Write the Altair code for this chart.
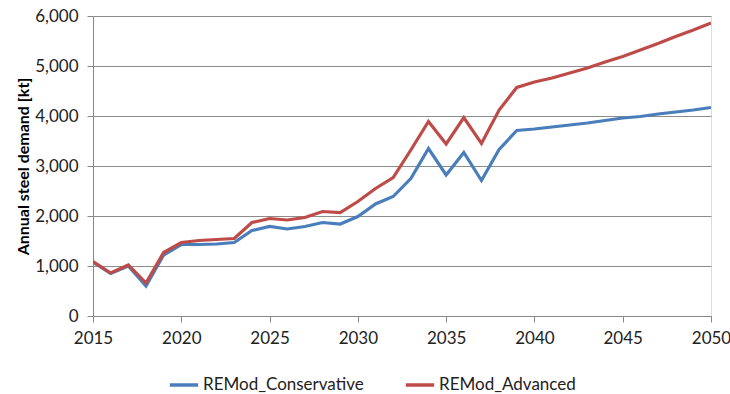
import altair as alt
import pandas as pd

years = list(range(2015, 2051))
conservative = [1080, 850, 1000, 600, 1220, 1430, 1430, 1440, 1470, 1710,
                1790, 1740, 1790, 1870, 1840, 1990, 2240, 2390, 2750, 3350,
                2820, 3270, 2710, 3330, 3710, 3740, 3780, 3820, 3860, 3910,
                3960, 3990, 4040, 4080, 4120, 4170]
advanced = [1090, 860, 1020, 660, 1270, 1470, 1510, 1530, 1550, 1870,
            1950, 1920, 1970, 2090, 2070, 2290, 2550, 2770, 3320, 3890,
            3440, 3970, 3450, 4120, 4570, 4680, 4760, 4860, 4960, 5080,
            5190, 5320, 5450, 5590, 5720, 5860]
series_names = ["REMod_Conservative", "REMod_Advanced"]
colors = ["#4A7EBB", "#BE4B48"]

rows = []
for y, c, a in zip(years, conservative, advanced):
    rows.append({"year": y, "value": c, "series": series_names[0]})
    rows.append({"year": y, "value": a, "series": series_names[1]})
df = pd.DataFrame(rows)

FONT = "Lato"

chart = alt.Chart(df).mark_line(strokeWidth=3.2, clip=True).encode(
    x=alt.X("year:Q",
            scale=alt.Scale(domain=[2015, 2050], nice=False, zero=False),
            axis=alt.Axis(values=list(range(2015, 2051, 5)), format="d", title=None,
                          grid=False, domainColor="#888888", tickColor="#888888",
                          tickSize=6, labelPadding=8, labelFontSize=17,
                          labelFlush=False,
                          labelColor="#222222", labelFont=FONT)),
    y=alt.Y("value:Q",
            scale=alt.Scale(domain=[0, 6000], nice=False),
            axis=alt.Axis(values=list(range(0, 6001, 1000)), format=",.0f",
                          title="Annual steel demand [kt]", titleFont=FONT,
                          titleFontSize=16, titleFontWeight="bold", titleColor="#000000",
                          titlePadding=3, labelFlush=False,
                          gridColor="#8C8C8C", gridWidth=1, domainColor="#888888",
                          tickColor="#888888", tickSize=6, labelPadding=9,
                          labelFontSize=17, labelColor="#222222", labelFont=FONT)),
    color=alt.Color("series:N",
                    scale=alt.Scale(domain=series_names, range=colors),
                    legend=alt.Legend(title=None, orient="none", legendX=75, legendY=353,
                                      direction="horizontal", symbolType="stroke",
                                      symbolStrokeWidth=3.5, symbolSize=800,
                                      labelFontSize=17, labelFont=FONT, labelLimit=400,
                                      labelColor="#222222", columnPadding=34,
                                      labelOffset=3)),
).properties(
    width=618, height=300,
    padding={"left": 93, "top": 16, "right": 19, "bottom": 78},
    autosize="none",
).configure_view(
    fill="#F2F2F2", stroke=None
).configure(background="white")

chart.save("out.html", embed_options={"renderer": "svg", "actions": False})
